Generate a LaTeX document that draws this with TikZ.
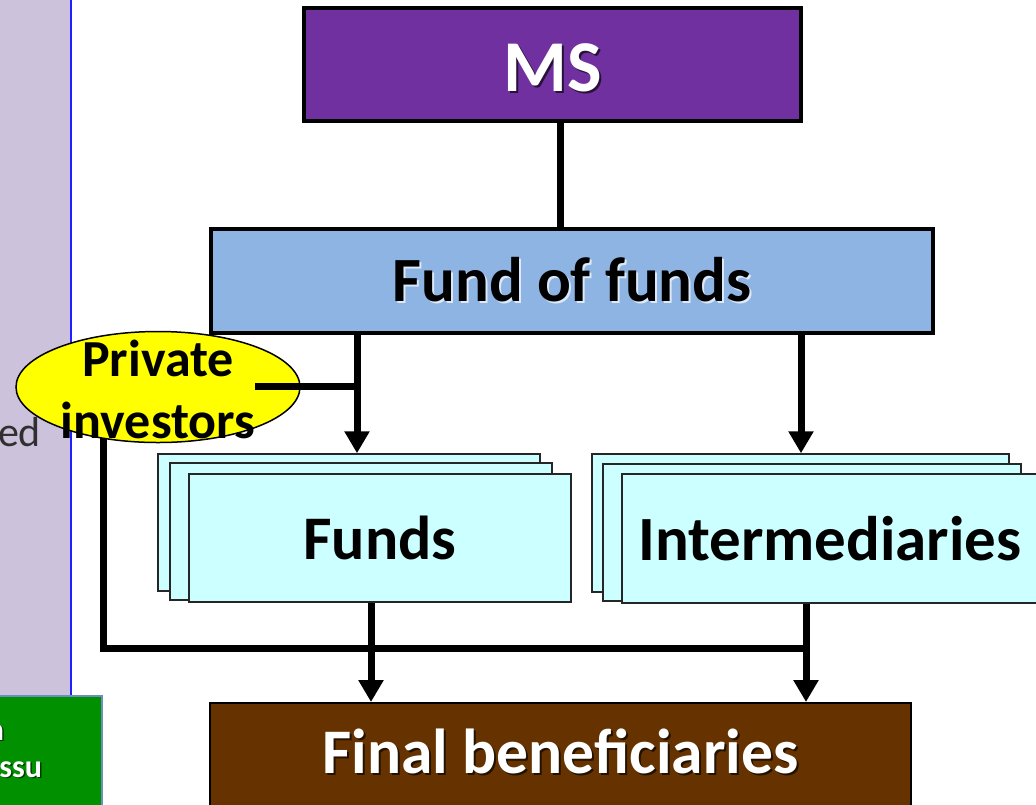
\documentclass[tikz,border=0pt]{standalone}
\usepackage{fontspec}
\setmainfont{Carlito}
\usetikzlibrary{arrows.meta,shapes.geometric,calc}
\definecolor{msfill}{HTML}{7030A0}
\definecolor{foffill}{HTML}{8EB4E3}
\definecolor{stackfill}{HTML}{CCFFFF}
\definecolor{finalfill}{HTML}{663300}
\definecolor{pifill}{HTML}{FFFF00}
\definecolor{panelfill}{HTML}{CCC2DC}
\definecolor{panelline}{HTML}{2020FF}
\definecolor{greenfill}{HTML}{009000}
\definecolor{greenborder}{HTML}{6C8EBF}
\definecolor{edgray}{HTML}{303030}
\newcommand\shtext[3][2pt]{\makebox[0pt][l]{\hspace*{#1}\raisebox{-#1}{\textcolor{#2}{#3}}}#3}
\begin{document}
\begin{tikzpicture}[x=1pt,y=-1pt,
  bigbox/.style={draw=black, rectangle, inner sep=0pt, line width=4pt},
  stackbox/.style={draw=black!85, rectangle, inner sep=0pt, line width=1.5pt, fill=stackfill,
    font=\fontsize{62}{70}\selectfont\bfseries},
  conn/.style={line width=7pt},
  arr/.style={line width=7pt, -{Triangle[width=24pt,length=22pt]}},
  plain/.style={inner sep=0pt, outer sep=0pt}
]
\useasboundingbox (0,0) rectangle (1036,804);
\clip (0,0) rectangle (1036,804);
% left slide remnants
\fill[panelfill] (0,-5) rectangle (71,700);
\draw[panelline, line width=2pt] (71,-5) -- (71,700);
\node[plain, anchor=base east, text=edgray, font=\fontsize{42}{48}\selectfont] (edtxt) at (41,446) {ed};
\node[rectangle, draw=greenborder, line width=2pt, fill=greenfill, inner sep=0pt,
  minimum width=112pt, minimum height=124pt] (green) at (46,758) {};
\node[plain, anchor=base east, text=white, font=\fontsize{32}{38}\selectfont\bfseries] (gt1) at (4,740) {\shtext[1.5pt]{black!60!greenfill}{n}};
\node[plain, anchor=base east, text=white, font=\fontsize{32}{38}\selectfont\bfseries] (gt2) at (42,777) {\shtext[1.5pt]{black!60!greenfill}{ssu}};

% main boxes
\node[bigbox, fill=msfill, text=white, minimum width=497pt, minimum height=113pt,
  text height=53pt, text depth=0pt,
  font=\fontsize{73}{80}\selectfont\bfseries] (MS) at (552.5,64.5) {\shtext{black!65!msfill}{MS}};
\node[bigbox, fill=foffill, text=black, minimum width=722pt, minimum height=104pt,
  font=\fontsize{63}{70}\selectfont\bfseries] (FoF) at (572,281) {\shtext{white!70!foffill}{Fund of funds}};

\node[stackbox, minimum width=382pt, minimum height=137pt] (FundsB) at (349,522.5) {};
\node[stackbox, minimum width=382pt, minimum height=137pt] (FundsM) at (361,531.5) {};
\node[stackbox, minimum width=382pt, minimum height=128pt] (Funds) at (380,538) {Funds};

\node[stackbox, minimum width=417pt, minimum height=138pt] (InterB) at (800.5,523) {};
\node[stackbox, minimum width=418pt, minimum height=137pt] (InterM) at (812,532.5) {};
\node[stackbox, minimum width=416pt, minimum height=129pt, font=\fontsize{63}{70}\selectfont\bfseries] (Inter) at (830,538.5) {Intermediaries};

\node[rectangle, draw=black, line width=2pt, fill=finalfill, text=white, inner sep=0pt,
  minimum width=701pt, minimum height=112pt, text height=44pt, text depth=16pt,
  font=\fontsize{63.5}{70}\selectfont\bfseries] (Final) at (560.5,759) {\shtext{black!65!finalfill}{Final beneficiaries}};

% connectors
\coordinate (xa) at (560,0);
\draw[conn] (MS.south -| xa) -- (FoF.north -| xa);
\coordinate (xf) at (357,0);
\draw[arr] (FoF.south -| xf) -- (FundsB.north -| xf);
\coordinate (xi) at (801,0);
\draw[arr] (FoF.south -| xi) -- (InterB.north -| xi);
\coordinate (xf2) at (371,0);
\draw[arr] (Funds.south -| xf2) -- (Final.north -| xf2);
\coordinate (xi2) at (806,0);
\draw[arr] (Inter.south -| xi2) -- (Final.north -| xi2);
\coordinate (bs) at (103,425);
\coordinate (bj) at (806,648);
\draw[conn] (bs) |- (bj);

% private investors
\node[ellipse, draw=black, line width=1.5pt, fill=pifill, inner sep=0pt,
  minimum width=284pt, minimum height=111pt] (PI) at (158,387) {};
\coordinate (pis) at (255,386);
\coordinate (pij) at (357,386);
\draw[conn] (pis) -- (pij);
\node[plain, align=center, font=\fontsize{52}{62}\selectfont\bfseries] (PItext) at (158,389) {Private\\investors};
\end{tikzpicture}
\end{document}
